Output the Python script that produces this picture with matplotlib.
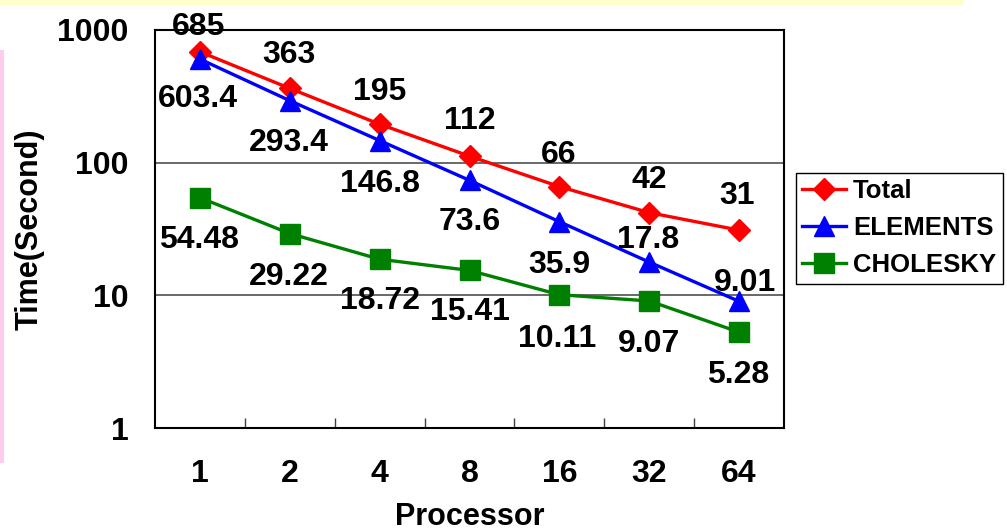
import matplotlib.pyplot as plt
from matplotlib.patches import Rectangle

# data
processors = ["1", "2", "4", "8", "16", "32", "64"]
total = [685, 363, 195, 112, 66, 42, 31]
elements = [603.4, 293.4, 146.8, 73.6, 35.9, 17.8, 9.01]
cholesky = [54.48, 29.22, 18.72, 15.41, 10.11, 9.07, 5.28]

total_text = ["685", "363", "195", "112", "66", "42", "31"]
elements_text = ["603.4", "293.4", "146.8", "73.6", "35.9", "17.8", "9.01"]
cholesky_text = ["54.48", "29.22", "18.72", "15.41", "10.11", "9.07", "5.28"]

# label offsets from the marker (pixels, up is positive)
total_off = [(-1, 28), (-1, 36), (0, 35), (0, 38), (-1, 35), (0, 36), (-2, 37)]
elements_off = [(-2, -37), (-1, -39), (0, -40), (0, -39), (0, -40), (-1, 25), (6, 21)]
cholesky_off = [(-1, -39), (-1, -40), (0, -39), (0, -39), (-2, -41), (0, -40), (-1, -40)]

plt.rcParams['font.family'] = ['Liberation Sans', 'DejaVu Sans']
plt.rcParams['font.weight'] = 'bold'

W, H = 1007, 531
fig = plt.figure(figsize=(W / 100, H / 100), dpi=100)

# decoration strips from the original slide
fig.patches.append(Rectangle((0, 1 - 5 / H), 963 / W, 5 / H, transform=fig.transFigure,
                             facecolor='#FFFFCC', edgecolor='none'))
fig.patches.append(Rectangle((0, 1 - 463 / H), 4 / W, 413 / H, transform=fig.transFigure,
                             facecolor='#FFCCEE', edgecolor='none'))

ax = fig.add_axes([155 / W, 1 - 428 / H, 629 / W, 398 / H])
x = list(range(len(processors)))

ax.plot(x, total, color='#FF0000', lw=2.4, marker='D', ms=11, label='Total')
ax.plot(x, elements, color='#0000FF', lw=2.4, marker='^', ms=15, label='ELEMENTS')
ax.plot(x, cholesky, color='#008000', lw=2.4, marker='s', ms=15, label='CHOLESKY')

for vals, texts, offs in [(total, total_text, total_off),
                          (elements, elements_text, elements_off),
                          (cholesky, cholesky_text, cholesky_off)]:
    for i in range(len(vals)):
        ax.annotate(texts[i], (x[i], vals[i]), xytext=(offs[i][0], offs[i][1] - 3),
                    textcoords='offset pixels', ha='center', va='center',
                    fontsize=23, fontweight='bold', annotation_clip=False)

ax.set_yscale('log')
ax.set_ylim(1, 1000)
ax.set_xlim(-0.5, len(processors) - 0.5)
ax.set_yticks([1, 10, 100, 1000])
ax.set_yticklabels(["1", "10", "100", "1000"])
ax.yaxis.set_minor_locator(plt.NullLocator())
ax.tick_params(axis='y', length=0, pad=19, labelsize=23)
ax.set_xticks(x)
ax.set_xticklabels(processors)
ax.set_xticks([i + 0.5 for i in x[:-1]], minor=True)
ax.tick_params(axis='x', which='major', length=0, pad=22, labelsize=23)
ax.tick_params(axis='x', which='minor', direction='in', length=7.5, width=1, color='#404040')

ax.yaxis.grid(True, color='#404040', lw=1.1)
ax.set_axisbelow(True)
for s in ax.spines.values():
    s.set_color('black')
    s.set_linewidth(1.5)

ax.set_ylabel("Time(Second)", fontsize=22, fontweight='bold')
ax.yaxis.set_label_coords(-(155 - 30) / 629, 0.5)
ax.yaxis.label.set_va('center')
ax.set_xlabel("Processor", fontsize=22, fontweight='bold')
ax.xaxis.set_label_coords(0.5, -(517 - 428) / 398)
ax.xaxis.label.set_va('center')

leg = ax.legend(loc='upper left', bbox_to_anchor=(796 / W, 1 - 173 / H),
                bbox_transform=fig.transFigure, fontsize=18.5, frameon=True,
                fancybox=False, edgecolor='black', framealpha=1,
                handlelength=1.7, handletextpad=0.27, labelspacing=0.5,
                borderpad=0.25, borderaxespad=0)
leg.get_frame().set_linewidth(1)
for t in leg.get_texts():
    t.set_fontweight('bold')

fig.savefig("out.png", dpi=100)
